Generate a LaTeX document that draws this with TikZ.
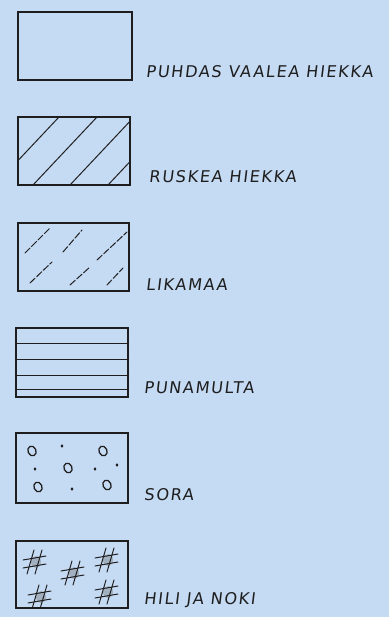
\documentclass[tikz,border=0pt]{standalone}
\usepackage{fontspec}
\newfontfamily\handfont[LetterSpace=10, FakeSlant=0.12]{DejaVu Sans}
\usetikzlibrary{calc}
\definecolor{paper}{HTML}{C5DAF3}
\definecolor{pen}{HTML}{1E1E1E}
\definecolor{smudge}{HTML}{9AA6B2}
\newlength{\pxu}
\setlength{\pxu}{0.025cm}
\tikzset{
  legendbox/.style={
    draw=pen,
    line width=0.9pt,
    minimum width=112\pxu,
    minimum height=68\pxu,
    inner sep=0pt,
  },
  lbl/.style={
    font=\handfont\fontsize{11.5}{13}\selectfont,
    text=pen,
    anchor=base west,
    inner sep=0pt,
  },
  hatch/.style={
    draw=pen,
    line width=0.7pt,
    line cap=round,
  },
  hashmark/.pic={
    \fill[smudge, opacity=0.8] (1,0) ellipse [x radius=5, y radius=6];
    \draw[hatch] (-8,12) -- (-1,-12);
    \draw[hatch] (0,12) -- (7,-12);
    \draw[hatch] (-12,-2) -- (11,-6);
    \draw[hatch] (-12,6) -- (11,2);
  },
}

\begin{document}
\begin{tikzpicture}[x=0.025cm, y=-0.025cm]

% === Paper ===
\fill[paper] (0,0) rectangle (389,617);

% === Legend boxes ===
\node[legendbox, minimum width=114\pxu] (box1) at (75,46) {};
\node[legendbox] (box2) at (74,151) {};
\node[legendbox, minimum width=111\pxu] (box3) at (73.5,257) {};
\node[legendbox, minimum height=69\pxu] (box4) at (72,362.5) {};
\node[legendbox, minimum height=70\pxu] (box5) at (72,468) {};
\node[legendbox, minimum height=67\pxu] (box6) at (72,574.5) {};

% === Labels ===
\node[lbl] (puhdas) at ($(box1.south east)+(13,-3)$) {PUHDAS VAALEA HIEKKA};
\node[lbl] (ruskea) at ($(box2.south east)+(18,-3)$) {RUSKEA HIEKKA};
\node[lbl] (likamaa) at ($(box3.south east)+(16,-1)$) {LIKAMAA};
\node[lbl] (punamulta) at ($(box4.south east)+(15,-4)$) {PUNAMULTA};
\node[lbl] (sora) at ($(box5.south east)+(15,-3)$) {SORA};
\node[lbl] (hili) at ($(box6.south east)+(15,-4)$) {HILI JA NOKI};

% === Ruskea hiekka: diagonal hatch ===
\begin{scope}
  \clip (box2.south west) rectangle (box2.north east);
  \foreach \x in {-5,33,70,108}
    \draw[hatch] (\x,185) -- ++(64,-68);
\end{scope}

% === Likamaa: broken diagonal strokes ===
\begin{scope}[dash pattern=on 5pt off 1.5pt]
  \draw[hatch] (25,253) -- (50,228);
  \draw[hatch] (63,252) -- (82,230);
  \draw[hatch] (97,260) -- (127,232);
  \draw[hatch] (30,283) -- (52,262);
  \draw[hatch] (70,285) -- (90,267);
  \draw[hatch] (107,285) -- (123,268);
\end{scope}

% === Punamulta: horizontal layers ===
\foreach \y in {343,359,375,389}
  \draw[hatch] (box4.west |- 0,\y) -- (box4.east |- 0,\y);

% === Sora: pebbles and grains ===
\foreach \x/\y in {32/451, 103/451, 68/468, 38/487, 107/485}
  \draw[hatch, line width=0.9pt, rotate around={25:(\x,\y)}] (\x,\y) ellipse [x radius=4, y radius=5];
\foreach \x/\y in {62/446, 35/469, 117/465, 95/469, 72/489}
  \fill[pen] (\x,\y) ellipse [x radius=1.4, y radius=1.8];

% === Hili ja noki: hash marks ===
\begin{scope}
  \clip (box6.south west) rectangle (box6.north east);
  \foreach \x/\y in {35/562, 73/573, 107/560, 40/597, 107/592}
    \pic at (\x,\y) {hashmark};
\end{scope}

\end{tikzpicture}
\end{document}
